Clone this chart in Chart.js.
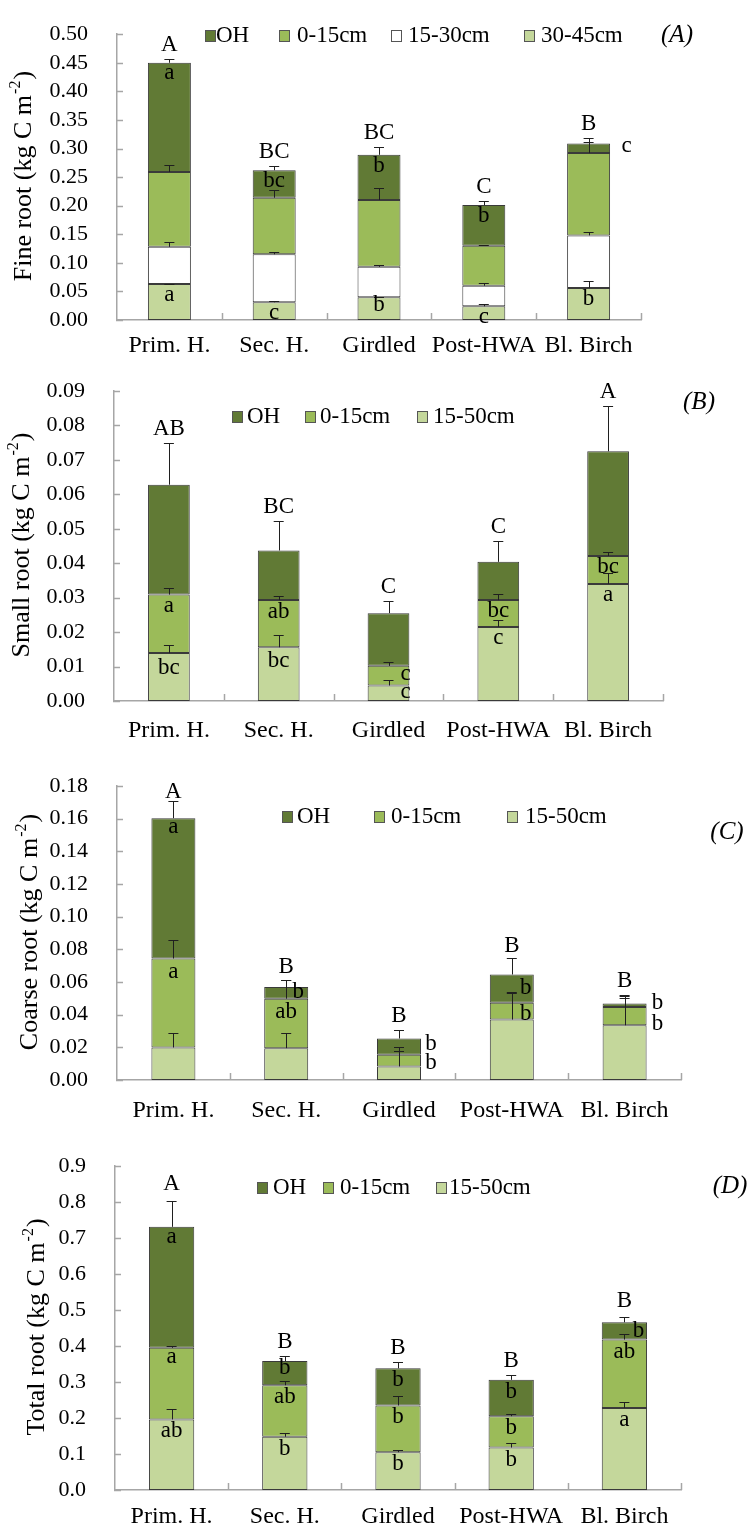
<!DOCTYPE html>
<html>
<head>
<meta charset="utf-8">
<script src="https://cdn.jsdelivr.net/npm/chart.js@4.4.1/dist/chart.umd.min.js"></script>
<style>
  body { margin: 0; background: #fff; width: 749px; height: 1534px; position: relative; overflow: hidden; }
  canvas { position: absolute; left: 0; }
</style>
</head>
<body>
<canvas id="panelA" width="749" height="365" style="top:0px"></canvas>
<canvas id="panelB" width="749" height="390" style="top:355px"></canvas>
<canvas id="panelC" width="749" height="385" style="top:740px"></canvas>
<canvas id="panelD" width="749" height="414" style="top:1120px"></canvas>
<script>
const categories = ["Prim. H.", "Sec. H.", "Girdled", "Post-HWA", "Bl. Birch"];

// (A) fine root, kg C m-2 (legend order: top segment first)
const fineLegend = ["OH", "0-15cm", "15-30cm", "30-45cm"];
const fineOH = [0.191, 0.048, 0.079, 0.071, 0.017];
const fine0to15 = [0.131, 0.099, 0.117, 0.070, 0.144];
const fine15to30 = [0.065, 0.084, 0.053, 0.036, 0.092];
const fine30to45 = [0.063, 0.031, 0.040, 0.024, 0.056];
const fineOHErr = [0.006, 0.008, 0.013, 0.007, 0.009];
const fine0to15Err = [0.013, 0.013, 0.021, 0.001, 0.020];
const fine15to30Err = [0.009, 0.004, 0.004, 0.0055, 0.006];
const fine30to45Err = [0.0005, 0.003, 0.001, 0.0033, 0.013];
const fineGroup = ["A", "BC", "BC", "C", "B"];
const fineOHLet = ["a", "bc", "b", "b", "c"];
const fine30to45Let = ["a", "c", "b", "c", "b"];
const fineTicks = { max: 0.5, step: 0.05, dec: 2 };

// (B) small root
const depthLegend = ["OH", "0-15cm", "15-50cm"];
const smallOH = [0.0319, 0.0144, 0.0153, 0.0111, 0.0304];
const small0to15 = [0.0170, 0.0137, 0.0057, 0.0078, 0.0081];
const small15to50 = [0.0139, 0.0156, 0.0045, 0.0215, 0.0340];
const smallOHErr = [0.0122, 0.0085, 0.0035, 0.0061, 0.0131];
const small0to15Err = [0.0019, 0.0012, 0.0011, 0.0018, 0.0013];
const small15to50Err = [0.0024, 0.0037, 0.0015, 0.0021, 0.0032];
const smallGroup = ["AB", "BC", "C", "C", "A"];
const small0to15Let = ["a", "ab", "c", "bc", "bc"];
const small15to50Let = ["bc", "bc", "c", "c", "a"];
const smallTicks = { max: 0.09, step: 0.01, dec: 2 };

// (C) coarse root
const coarseOH = [0.0859, 0.0071, 0.0100, 0.0173, 0.0022];
const coarse0to15 = [0.0545, 0.0303, 0.0071, 0.0103, 0.0112];
const coarse15to50 = [0.0199, 0.0195, 0.0083, 0.0370, 0.0335];
const coarseOHErr = [0.0106, 0.0045, 0.0053, 0.0100, 0.0052];
const coarse0to15Err = [0.0113, 0.0115, 0.0045, 0.0067, 0.0065];
const coarse15to50Err = [0.0087, 0.0091, 0.0096, 0.0160, 0.0170];
const coarseGroup = ["A", "B", "B", "B", "B"];
const coarseOHLet = ["a", "b", "b", "b", "b"];
const coarse0to15Let = ["a", "ab", "b", "b", "b"];
const coarseTicks = { max: 0.18, step: 0.02, dec: 2 };

// (D) total root
const totalOH = [0.336, 0.067, 0.103, 0.101, 0.048];
const total0to15 = [0.199, 0.143, 0.130, 0.087, 0.190];
const total15to50 = [0.196, 0.148, 0.105, 0.118, 0.228];
const totalOHErr = [0.073, 0.013, 0.018, 0.013, 0.015];
const total0to15Err = [0.006, 0.013, 0.025, 0.007, 0.016];
const total15to50Err = [0.028, 0.009, 0.007, 0.013, 0.016];
const totalGroup = ["A", "B", "B", "B", "B"];
const totalOHLet = ["a", "b", "b", "b", "b"];
const total0to15Let = ["a", "ab", "b", "b", "ab"];
const total15to50Let = ["ab", "b", "b", "b", "a"];
const totalTicks = { max: 0.9, step: 0.1, dec: 1 };

const DARK = "#617a35", MID = "#9bbb59", LIGHT = "#c4d79b";
const FONT = '"Liberation Serif", "Times New Roman", serif';
const none = ["", "", "", "", ""];

function extrasFor(p) {
  return {
    id: "extras",
    afterDatasetsDraw(chart) {
      const ctx = chart.ctx, xs = chart.scales.x, ys = chart.scales.y, area = chart.chartArea;
      const n = p.series.length;
      ctx.save();
      // inner tick marks
      ctx.strokeStyle = "#a6a6a6";
      ctx.lineWidth = 1.5;
      ys.ticks.forEach(t => {
        const py = Math.round(ys.getPixelForValue(t.value)) + 0.5;
        ctx.beginPath(); ctx.moveTo(area.left - 1, py); ctx.lineTo(area.left + 6, py); ctx.stroke();
      });
      for (let j = 1; j <= categories.length; j++) {
        const px = Math.round(area.left + (area.right - area.left) * j / categories.length) + 0.5;
        ctx.beginPath(); ctx.moveTo(px, area.bottom); ctx.lineTo(px, area.bottom - 7); ctx.stroke();
      }
      // error bars and letters
      ctx.strokeStyle = "#1f1f1f";
      ctx.lineWidth = 1;
      ctx.fillStyle = "#000";
      ctx.textAlign = "center";
      ctx.textBaseline = "middle";
      ctx.font = "23px " + FONT;
      categories.forEach((c, j) => {
        const cx = xs.getPixelForValue(j);
        let topCap = 0;
        for (let k = n - 1; k >= 0; k--) {
          let v = 0;
          for (let m = k; m < n; m++) v += p.series[m][j];
          const cap = v + p.errors[k][j];
          topCap = Math.max(topCap, cap);
          const y0 = ys.getPixelForValue(v), y1 = Math.round(ys.getPixelForValue(cap)) + 0.5;
          ctx.beginPath();
          ctx.moveTo(Math.round(cx) + 0.5, y0); ctx.lineTo(Math.round(cx) + 0.5, y1);
          ctx.moveTo(cx - 5, y1); ctx.lineTo(cx + 5, y1);
          ctx.stroke();
          const txt = p.letters[k][j];
          if (txt) {
            const sh = p.shift[k + "," + j] || [0, p.dy];
            ctx.fillText(txt, cx + sh[0], y0 + sh[1]);
          }
        }
        const gdy = (p.groupDy && p.groupDy[j]) || 14;
        ctx.fillText(p.group[j], cx, ys.getPixelForValue(topCap) - gdy);
      });
      ctx.restore();
    },
    afterDraw(chart) {
      const ctx = chart.ctx, area = chart.chartArea;
      ctx.save();
      // y title with superscript
      ctx.translate(p.titleX, (area.top + area.bottom) / 2);
      ctx.rotate(-Math.PI / 2);
      ctx.fillStyle = "#000";
      ctx.textBaseline = "middle";
      ctx.textAlign = "left";
      const a = p.yTitle + " (kg C m", s = "-2", b = ")";
      ctx.font = "26px " + FONT;
      const wa = ctx.measureText(a).width, wb = ctx.measureText(b).width;
      ctx.font = "16px " + FONT;
      const ws = ctx.measureText(s).width;
      let sx = -(wa + ws + wb) / 2;
      ctx.font = "26px " + FONT;
      ctx.fillText(a, sx, 0);
      ctx.font = "16px " + FONT;
      ctx.fillText(s, sx + wa + 1, -8);
      ctx.font = "26px " + FONT;
      ctx.fillText(b, sx + wa + ws + 2, 0);
      ctx.restore();
      // legend
      ctx.save();
      ctx.font = "23px " + FONT;
      ctx.textBaseline = "middle";
      ctx.textAlign = "left";
      p.legend.forEach((lab, k) => {
        const bx = p.legendBox[k];
        ctx.fillStyle = p.colors[k];
        ctx.fillRect(bx, p.legendY - 5, 10, 11);
        ctx.strokeStyle = "#555";
        ctx.lineWidth = 1;
        ctx.strokeRect(bx + 0.5, p.legendY - 4.5, 10, 11);
        ctx.fillStyle = "#000";
        ctx.fillText(lab, p.legendText[k], p.legendY + 1);
      });
      // panel letter
      ctx.font = "italic 25px " + FONT;
      ctx.textAlign = "center";
      ctx.fillText(p.tag, p.tagPos[0], p.tagPos[1]);
      ctx.restore();
    }
  };
}

function makePanel(id, p) {
  const n = p.series.length;
  const datasets = [];
  for (let k = n - 1; k >= 0; k--) {
    datasets.push({
      label: p.legend[k],
      data: p.series[k],
      backgroundColor: p.colors[k],
      borderColor: "#3a3a3a",
      borderWidth: 1,
      borderSkipped: false,
      categoryPercentage: p.barPct,
      barPercentage: 1
    });
  }
  const canvas = document.getElementById(id);
  const xh = canvas.height - p.area[3];
  new Chart(canvas, {
    type: "bar",
    data: { labels: categories, datasets },
    options: {
      responsive: false,
      animation: false,
      events: [],
      layout: {
        padding: { left: 0, top: p.area[1], right: 749 - p.area[2], bottom: 0 }
      },
      plugins: { legend: { display: false }, tooltip: { enabled: false } },
      scales: {
        x: {
          stacked: true,
          grid: { display: false },
          border: { color: "#a6a6a6", width: 1.5 },
          ticks: { color: "#000", font: { family: FONT, size: 24 }, padding: p.xPad, autoSkip: false, maxRotation: 0 },
          afterFit: s => { s.height = xh; }
        },
        y: {
          stacked: true,
          min: 0,
          max: p.ticks.max,
          grid: { display: false },
          border: { color: "#a6a6a6", width: 1.5 },
          ticks: {
            stepSize: p.ticks.step,
            autoSkip: false,
            color: "#000",
            font: { family: FONT, size: 22 },
            padding: 21,
            callback: v => Number(v).toFixed(p.ticks.dec)
          },
          afterFit: s => { s.width = p.area[0]; }
        }
      }
    },
    plugins: [extrasFor(p)]
  });
}

makePanel("panelA", {
  series: [fineOH, fine0to15, fine15to30, fine30to45],
  errors: [fineOHErr, fine0to15Err, fine15to30Err, fine30to45Err],
  letters: [fineOHLet, none, none, fine30to45Let],
  group: fineGroup,
  legend: fineLegend,
  colors: [DARK, MID, "#ffffff", LIGHT],
  ticks: fineTicks,
  yTitle: "Fine root",
  area: [117, 17, 641, 320],
  barPct: 0.41, xPad: 3, dy: 11,
  shift: { "0,0": [0, 10], "0,4": [38, 3], "3,2": [0, 8] },
  titleX: 24, tag: "(A)", tagPos: [677, 35],
  legendBox: [205, 279, 391, 524], legendText: [216, 297, 408, 541], legendY: 35
});

makePanel("panelB", {
  series: [smallOH, small0to15, small15to50],
  errors: [smallOHErr, small0to15Err, small15to50Err],
  letters: [none, small0to15Let, small15to50Let],
  group: smallGroup,
  legend: depthLegend,
  colors: [DARK, MID, LIGHT],
  ticks: smallTicks,
  yTitle: "Small root",
  area: [114, 36, 663, 346],
  barPct: 0.38, xPad: 7, dy: 11,
  shift: { "1,2": [17, 8], "2,2": [17, 6], "2,0": [0, 15], "2,1": [0, 14], "1,1": [0, 12] },
  titleX: 22, tag: "(B)", tagPos: [699, 47],
  legendBox: [232, 305, 417], legendText: [247, 320, 433], legendY: 61
});

makePanel("panelC", {
  series: [coarseOH, coarse0to15, coarse15to50],
  errors: [coarseOHErr, coarse0to15Err, coarse15to50Err],
  letters: [coarseOHLet, coarse0to15Let, none],
  group: coarseGroup,
  groupDy: [9, 13, 14, 12, 14],
  legend: depthLegend,
  colors: [DARK, MID, LIGHT],
  ticks: coarseTicks,
  yTitle: "Coarse root",
  area: [117, 46, 681, 340],
  barPct: 0.39, xPad: 8, dy: 11,
  shift: {
    "0,0": [0, 9], "1,0": [0, 13], "0,1": [12, 5], "1,1": [0, 13],
    "0,2": [32, 5], "1,2": [32, 8], "0,3": [14, 13], "1,3": [14, 11],
    "0,4": [33, 0], "1,4": [33, 17]
  },
  titleX: 30, tag: "(C)", tagPos: [727, 92],
  legendBox: [282, 374, 507], legendText: [297, 391, 525], legendY: 76
});

makePanel("panelD", {
  series: [totalOH, total0to15, total15to50],
  errors: [totalOHErr, total0to15Err, total15to50Err],
  letters: [totalOHLet, total0to15Let, total15to50Let],
  group: totalGroup,
  groupDy: [17, 14, 14, 14, 16],
  legend: depthLegend,
  colors: [DARK, MID, LIGHT],
  ticks: totalTicks,
  yTitle: "Total root",
  area: [115, 46, 681, 370],
  barPct: 0.40, xPad: 4, dy: 12,
  shift: { "0,4": [14, 9], "0,0": [0, 10], "1,0": [0, 9], "0,1": [0, 7] },
  titleX: 37, tag: "(D)", tagPos: [730, 66],
  legendBox: [257, 323, 436], legendText: [273, 340, 449], legendY: 67
});
</script>
</body>
</html>
